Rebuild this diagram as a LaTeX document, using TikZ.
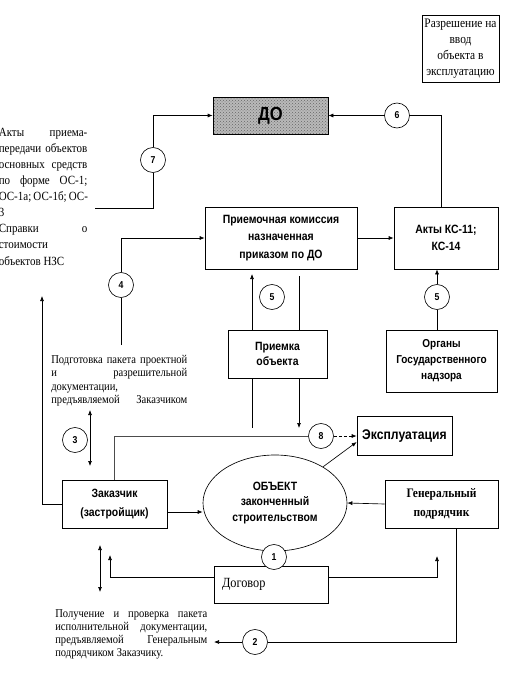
\documentclass[tikz,border=0pt]{standalone}
\usepackage{fontspec}
\setmainfont{Liberation Serif}
\setsansfont{Liberation Sans}
\newfontfamily\nsans[FakeStretch=0.87]{Liberation Sans}
\newfontfamily\nserif[FakeStretch=0.88]{Liberation Serif}
\usetikzlibrary{arrows.meta,shapes.geometric,patterns}
\begin{document}
\begin{tikzpicture}[x=1pt,y=-1pt,line width=0.65pt,
  >={Latex[length=5pt,width=4pt]},
  box/.style={draw, rectangle, inner sep=2pt, align=center, font=\nsans\bfseries\fontsize{12}{16.5}\selectfont},
  num/.style={draw, circle, fill=white, minimum size=25pt, inner sep=0pt, font=\nsans\bfseries\fontsize{10}{10}\selectfont},
  lbl/.style={anchor=north west, inner sep=0pt, align=left}
]
\useasboundingbox (0,0) rectangle (518,675);
\clip (0,0) rectangle (518,675);

% boxes
\node[box, font=\nserif\fontsize{13}{16}\selectfont, minimum width=77pt, minimum height=67pt] (perm) at (460.5,48.5) {Разрешение на\\ввод\\объекта в\\эксплуатацию};
\node[draw, minimum width=115pt, minimum height=37pt, preaction={fill=gray!55}, pattern=crosshatch dots, pattern color=black!60, font=\nsans\bfseries\fontsize{19}{19}\selectfont] (do) at (270.5,115.5) {ДО};
\node[box, font=\nsans\bfseries\fontsize{12}{17.5}\selectfont, minimum width=152pt, minimum height=62pt] (komis) at (281,238) {Приемочная комиссия\\назначенная\\приказом по ДО};
\node[box, font=\nsans\bfseries\fontsize{12}{17}\selectfont, minimum width=104pt, minimum height=62pt] (akty) at (446,238) {Акты КС-11;\\КС-14};
\node[box, font=\nsans\bfseries\fontsize{12}{15.5}\selectfont, minimum width=99pt, minimum height=48pt] (priemka) at (277.5,354) {Приемка\\объекта};
\node[box, font=\nsans\bfseries\fontsize{11.5}{16}\selectfont, minimum width=111pt, minimum height=62pt] (organy) at (441.5,361) {Органы\\Государственного\\надзора};
\node[box, font=\nsans\bfseries\fontsize{14}{15}\selectfont, minimum width=95pt, minimum height=39pt] (expl) at (404.5,436) {Эксплуатация};
\node[box, font=\nsans\bfseries\fontsize{12}{19}\selectfont, minimum width=105pt, minimum height=48pt] (zak) at (114.5,504) {Заказчик\\(застройщик)};
\node[draw, ellipse, inner sep=0pt, align=center, minimum width=144pt, minimum height=96pt, font=\nsans\bfseries\fontsize{12}{15.5}\selectfont] (obj) at (275,503) {ОБЪЕКТ\\законченный\\строительством};
\node[box, font=\nserif\bfseries\fontsize{13}{19}\selectfont, minimum width=113pt, minimum height=48pt] (gen) at (441.5,504) {Генеральный\\подрядчик};
\node[draw, rectangle, inner xsep=8pt, inner ysep=2pt, text width=98pt, align=left, minimum height=37pt, font=\nserif\fontsize{14}{15}\selectfont] (dog) at (271,584.5) {Договор};

% numbered circles
\node[num] (c6) at (397,115.5) {6};
\node[num] (c7) at (153,160) {7};
\node[num] (c4) at (121,285) {4};
\node[num] (c5a) at (272,297) {5};
\node[num] (c5b) at (437,297) {5};
\node[num] (c3) at (75,440) {3};
\node[num] (c8) at (321,436) {8};
\node[num] (c2) at (255,642) {2};

% text blocks
\node[lbl, font=\nserif\fontsize{12.5}{16.1}\selectfont] (akts) at (-1.5,127.7) {%
\makebox[88.5pt][s]{Акты приема-}\\
\makebox[88.5pt][s]{передачи объектов}\\
\makebox[88.5pt][s]{основных средств}\\
\makebox[88.5pt][s]{по форме ОС-1;}\\
\makebox[88.5pt][s]{ОС-1а; ОС-1б; ОС-}\\
3\\
\makebox[88.5pt][s]{Справки о}\\
стоимости\\
объектов НЗС};
\node[lbl, font=\nserif\fontsize{12}{13.3}\selectfont] (podg) at (51,355) {%
\makebox[136pt][s]{Подготовка пакета проектной}\\
\makebox[136pt][s]{и разрешительной}\\
документации,\\
\makebox[136pt][s]{предъявляемой Заказчиком}};
\node[lbl, font=\nserif\fontsize{12}{13.2}\selectfont] (polu) at (55,609) {%
\makebox[152pt][s]{Получение и проверка пакета}\\
\makebox[152pt][s]{исполнительной документации,}\\
\makebox[152pt][s]{предъявляемой Генеральным}\\
подрядчиком Заказчику.};

% connectors
\coordinate (t7) at (95,208);
\draw (t7) -| (c7.south);
\draw[->] (c7.north) |- (do.west);
\draw ([xshift=-5pt]akty.north) |- (c6.east);
\draw[->] (c6.west) -- (do.east);
\coordinate (t4) at (121,345);
\draw (t4) -- (c4.south);
\draw[->] (c4.north) |- (komis.west);
\draw[->] (komis.east) -- (akty.west);
\coordinate (a5) at (252,274);
\draw[->] (priemka.north -| a5) -- (a5);
\coordinate (b5) at (299,276);
\draw (priemka.north -| b5) -- (b5);
\draw (organy.north -| c5b) -- (c5b.south);
\draw[->] (c5b.north) -- (c5b.north |- akty.south);
\coordinate (a8) at (252,428);
\draw (priemka.south -| a8) -- (a8);
\coordinate (b8) at (299,428);
\draw[->] (priemka.south -| b8) -- (b8);
\draw[black!70, line width=0.5pt] (zak.north) |- (c8.west);
\draw[->, densely dashed] (c8.east) -- (c8.east -| expl.west);
\draw[->] (obj.37) -- ([yshift=-6pt]expl.west);
\draw[->] ([yshift=-8pt]zak.east) -- ([yshift=-8pt]zak.east -| obj.west);
\draw[->] (gen.west) -- (obj.east);
\coordinate (g1) at (437,556);
\draw[->] ([yshift=7pt]dog.east) -| (g1);
\coordinate (z1) at (110,555);
\draw[->] ([yshift=7pt]dog.west) -| (z1);
\coordinate (d1) at (100,545);
\coordinate (d2) at (100,592);
\draw[<->] (d1) -- (d2);
\coordinate (e1) at (90,410);
\coordinate (e2) at (90,466);
\draw[<->] (e1) -- (e2);
\coordinate (z2) at (42,296);
\draw[->] (zak.west) -| (z2);
\draw ([xshift=14.5pt]gen.south) |- (c2.east);
\coordinate (p1) at (214,642);
\draw[->] (c2.west) -- (p1);

\node[num] (c1) at (274,557) {1};
\end{tikzpicture}
\end{document}
